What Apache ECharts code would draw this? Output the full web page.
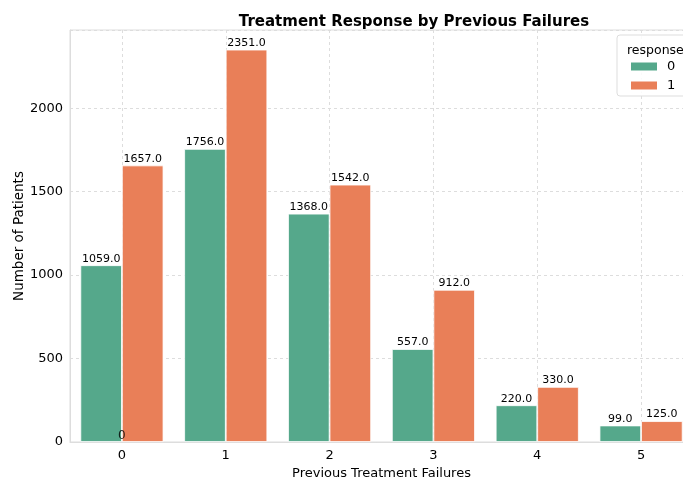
<!DOCTYPE html>
<html><head><meta charset="utf-8">
<script src="https://cdn.jsdelivr.net/npm/echarts@6/dist/echarts.min.js"></script>
<style>html,body{margin:0;padding:0;background:#fff;overflow:hidden}#c{width:683px;height:478px}</style>
</head><body><div id="c"></div>
<script>
const categories = ['0','1','2','3','4','5'];
const response0 = [1059, 1756, 1368, 557, 220, 99];
const response1 = [1657, 2351, 1542, 912, 330, 125];
const seriesNames = ['0','1'];
const extraLabelPoint = [[0, 0]];
const yTicks = [0, 500, 1000, 1500, 2000];

const chart = echarts.init(document.getElementById('c'), null, {renderer:'canvas'});
const font = 'DejaVu Sans';
const lbl = {show:true, position:'top', distance:1, color:'#000', fontFamily:font, fontSize:11,
  formatter: p => Number(p.value).toFixed(1)};
chart.setOption({
  animation:false,
  textStyle:{fontFamily:font},
  title:[
    {text:'Treatment Response by Previous Failures', left:409, top:10, textAlign:'center',
     textStyle:{fontFamily:font, fontSize:15, fontWeight:'bold', color:'#000'}},
    {text:'response', left:622, top:39, textStyle:{fontFamily:font, fontSize:12.5, fontWeight:'normal', color:'#000'}, z:10}
  ],
  legend:{orient:'vertical', left:617, top:35, padding:[25,30,4,12], itemGap:6,
    itemWidth:28, itemHeight:10, icon:'rect', backgroundColor:'rgba(255,255,255,0.85)',
    borderColor:'#ddd', borderWidth:1, borderRadius:3,
    textStyle:{fontFamily:font, fontSize:13, color:'#000', padding:[0,0,0,4]},
    data:seriesNames},
  grid:{left:70, right:-10, top:30, bottom:36, containLabel:false, outerBoundsMode:'none',
    show:true, borderColor:'#dddddd', borderWidth:1},
  xAxis:{type:'category', data:categories,
    name:'Previous Treatment Failures', nameLocation:'middle', nameGap:25, nameMoveOverlap:false,
    nameTextStyle:{fontFamily:font, fontSize:13, color:'#000'},
    axisLine:{show:true, lineStyle:{color:'#dddddd'}}, axisTick:{show:false, alignWithLabel:true},
    axisLabel:{fontFamily:font, fontSize:13, color:'#000', margin:7},
    splitLine:{show:true, alignWithLabel:true, lineStyle:{type:[3,3], color:'#dddddd'}},
    boundaryGap:true},
  yAxis:{type:'value', min:0, max:2468.55, interval:500,
    name:'Number of Patients', nameLocation:'middle', nameGap:44, nameMoveOverlap:false,
    nameTextStyle:{fontFamily:font, fontSize:13.5, color:'#000'},
    axisLine:{show:true, lineStyle:{color:'#dddddd'}}, axisTick:{show:false},
    axisLabel:{fontFamily:font, fontSize:13, color:'#000', margin:7,
      formatter: v => yTicks.includes(v) ? String(v) : ''},
    splitLine:{show:true, lineStyle:{type:[3,3], color:'#dddddd'}}},
  series:[
    {name:seriesNames[0], type:'bar', data:response0, barGap:'0%', barCategoryGap:'20%',
     itemStyle:{color:'#55a88b', borderColor:'#fff', borderWidth:0.8}, label:lbl},
    {name:seriesNames[1], type:'bar', data:response1,
     itemStyle:{color:'#e97f58', borderColor:'#fff', borderWidth:0.8}, label:lbl},
    {name:'zero', type:'scatter', data:extraLabelPoint, symbolSize:0, silent:true,
     label:{show:true, position:'top', distance:0, formatter:'0', color:'#000', fontFamily:font, fontSize:12}}
  ]
});
</script></body></html>
